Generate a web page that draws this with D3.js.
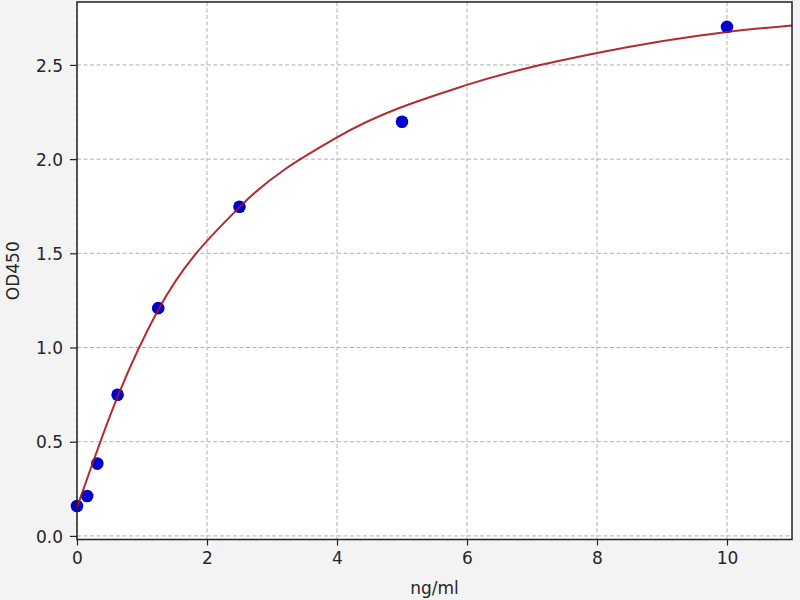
<!DOCTYPE html>
<html>
<head>
<meta charset="utf-8">
<script src="https://cdn.jsdelivr.net/npm/d3@7"></script>
<style>
  html, body { margin: 0; padding: 0; background: #f3f3f3; }
  svg { display: block; }
  .tick text { font-family: "DejaVu Sans", sans-serif; font-size: 17px; fill: #262626; }
  .axis-label { font-family: "DejaVu Sans", sans-serif; font-size: 17px; fill: #262626; }
</style>
</head>
<body>
<div id="chart"></div>
<script>
// standard concentrations (ng/ml) and measured OD450
const concentrations = [0, 0.156, 0.3125, 0.625, 1.25, 2.5, 5, 10];
const odValues = [0.159, 0.212, 0.384, 0.749, 1.209, 1.747, 2.198, 2.702];

// fitted curve
const curveX = [0, 0.625, 1.25, 2.5, 4, 6, 8, 10, 11];
const curveY = [0.15, 0.74, 1.2, 1.745, 2.115, 2.394, 2.563, 2.675, 2.709];

const xTicks = [0, 2, 4, 6, 8, 10];
const yTicks = [0.0, 0.5, 1.0, 1.5, 2.0, 2.5];
const xLimits = [0, 11];
const yLimits = [-0.019, 2.834];

const xLabel = 'ng/ml';
const yLabel = 'OD450';

function drawChart() {
  const W = 800, H = 600;
  const margin = { top: 2, right: 8, bottom: 60.5, left: 77 };
  const width = W - margin.left - margin.right,
    height = H - margin.top - margin.bottom;

  const svg = d3.select('#chart').append('svg')
    .attr('width', W)
    .attr('height', H);

  const g = svg.append('g')
    .attr('transform', 'translate(' + margin.left + ',' + margin.top + ')');

  const x = d3.scaleLinear().domain(xLimits).range([0, width]);
  const y = d3.scaleLinear().domain(yLimits).range([height, 0]);

  // white plot area
  g.append('rect')
    .attr('width', width)
    .attr('height', height)
    .attr('fill', '#fff');

  // dashed grid
  g.append('g').selectAll('line').data(xTicks).enter().append('line')
    .attr('x1', (d) => x(d)).attr('x2', (d) => x(d))
    .attr('y1', 0).attr('y2', height)
    .attr('stroke', '#b0b0b0').attr('stroke-width', 1)
    .attr('stroke-dasharray', '4,2.5');
  g.append('g').selectAll('line').data(yTicks).enter().append('line')
    .attr('x1', 0).attr('x2', width)
    .attr('y1', (d) => y(d)).attr('y2', (d) => y(d))
    .attr('stroke', '#b0b0b0').attr('stroke-width', 1)
    .attr('stroke-dasharray', '4,2.5');

  // points
  g.selectAll('circle').data(concentrations).enter().append('circle')
    .attr('cx', (d) => x(d))
    .attr('cy', (d, i) => y(odValues[i]))
    .attr('r', 6.3)
    .attr('fill', '#0000cc');

  // fitted curve on top
  const curve = curveX.map((d, i) => [d, curveY[i]]);
  g.append('path')
    .datum(curve)
    .attr('fill', 'none')
    .attr('stroke', '#a8141a')
    .attr('stroke-opacity', 0.9)
    .attr('stroke-width', 2)
    .attr('d', d3.line().x((d) => x(d[0])).y((d) => y(d[1])).curve(d3.curveMonotoneX));

  // axes
  const xAxis = g.append('g')
    .attr('transform', 'translate(0,' + height + ')')
    .call(d3.axisBottom(x).tickValues(xTicks).tickFormat(d3.format('d')).tickSizeOuter(0).tickSize(6).tickPadding(6));
  const yAxis = g.append('g')
    .call(d3.axisLeft(y).tickValues(yTicks).tickFormat(d3.format('.1f')).tickSizeOuter(0).tickSize(7).tickPadding(7));
  [xAxis, yAxis].forEach((a) => {
    a.select('.domain').remove();
    a.selectAll('.tick line').attr('stroke', '#222').attr('stroke-width', 1.2);
  });
  yAxis.selectAll('.tick text').attr('dy', '0.36em');

  // frame
  g.append('rect')
    .attr('width', width)
    .attr('height', height)
    .attr('fill', 'none')
    .attr('stroke', '#222')
    .attr('stroke-width', 1.5);

  // axis labels
  svg.append('text')
    .attr('class', 'axis-label')
    .attr('x', margin.left + width / 2)
    .attr('y', 594)
    .attr('text-anchor', 'middle')
    .text(xLabel);
  svg.append('text')
    .attr('class', 'axis-label')
    .attr('transform', 'translate(19,' + (margin.top + height / 2) + ') rotate(-90)')
    .attr('text-anchor', 'middle')
    .text(yLabel);
}

drawChart();
</script>
</body>
</html>
